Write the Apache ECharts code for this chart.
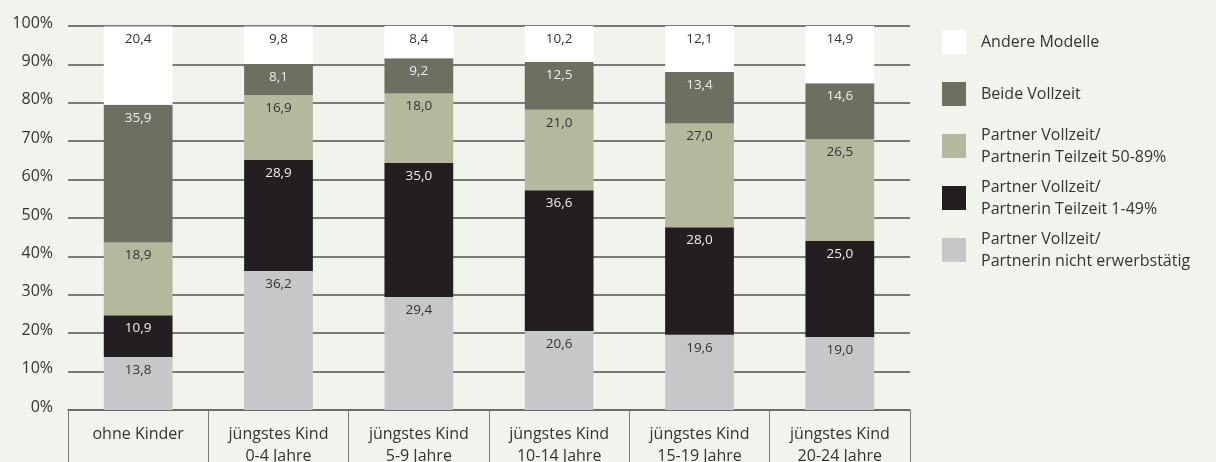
<!DOCTYPE html>
<html>
<head>
<meta charset="utf-8">
<script src="https://cdn.jsdelivr.net/npm/echarts@6/dist/echarts.min.js"></script>
<style>
html,body{margin:0;padding:0;background:#f3f3ee;}
#c{width:1216px;height:462px;}
</style>
</head>
<body>
<div id="c"></div>
<script>
const categories = ['ohne Kinder', 'jüngstes Kind\n0-4 Jahre', 'jüngstes Kind\n5-9 Jahre', 'jüngstes Kind\n10-14 Jahre', 'jüngstes Kind\n15-19 Jahre', 'jüngstes Kind\n20-24 Jahre'];
const seriesNames = ['Partner Vollzeit/\nPartnerin nicht erwerbstätig', 'Partner Vollzeit/\nPartnerin Teilzeit 1-49%', 'Partner Vollzeit/\nPartnerin Teilzeit 50-89%', 'Beide Vollzeit', 'Andere Modelle'];
const nichtErwerbstaetig = [13.8, 36.2, 29.4, 20.6, 19.6, 19.0];
const teilzeit1bis49 = [10.9, 28.9, 35.0, 36.6, 28.0, 25.0];
const teilzeit50bis89 = [18.9, 16.9, 18.0, 21.0, 27.0, 26.5];
const beideVollzeit = [35.9, 8.1, 9.2, 12.5, 13.4, 14.6];
const andereModelle = [20.4, 9.8, 8.4, 10.2, 12.1, 14.9];
const yTicks = [0, 10, 20, 30, 40, 50, 60, 70, 80, 90, 100];

const values = [nichtErwerbstaetig, teilzeit1bis49, teilzeit50bis89, beideVollzeit, andereModelle];
const colors = ['#c6c7c9', '#231f20', '#b5b89d', '#6d6f60', '#ffffff'];
const labelColors = ['#333333', '#eeeeee', '#333333', '#eeeeee', '#333333'];
const FONT = 'Open Sans';

const chart = echarts.init(document.getElementById('c'));

const series = values.map((v, i) => ({
  name: seriesNames[i],
  type: 'bar',
  stack: 'total',
  data: v,
  barWidth: '49%',
  itemStyle: { color: colors[i] },
  label: {
    show: true,
    position: 'insideTop',
    distance: 6,
    fontFamily: FONT,
    fontSize: 13.5,
    color: labelColors[i],
    formatter: p => p.value.toFixed(1).replace('.', ',')
  },
  emphasis: { disabled: true }
}));

// legend order from top: Andere, Beide, 50-89, 1-49, nicht erwerbstätig
const legendOrder = [4, 3, 2, 1, 0];
const iconTops = [30, 82, 134, 186, 238];
const legends = legendOrder.map((si, k) => {
  const multi = seriesNames[si].indexOf('\n') >= 0;
  return {
    orient: 'vertical',
    left: 942,
    top: multi ? iconTops[k] - 21 : iconTops[k],
    padding: 0,
    itemWidth: 24,
    itemHeight: 24,
    icon: 'rect',
    selectedMode: false,
    data: [seriesNames[si]],
    textStyle: {
      fontFamily: FONT,
      fontSize: 16,
      color: '#333333',
      lineHeight: 22,
      padding: multi ? [22, 0, 0, 10] : [2, 0, 0, 10]
    }
  };
});

chart.setOption({
  backgroundColor: '#f3f3ee',
  animation: false,
  legend: legends,
  grid: { left: 68, right: 306, top: 26, bottom: 52, containLabel: false, outerBoundsMode: 'none' },
  xAxis: {
    type: 'category',
    data: categories,
    axisLine: { show: true, lineStyle: { color: '#666666', width: 1.5 } },
    axisTick: { show: true, interval: 0, length: 60, lineStyle: { color: '#777777', width: 1 } },
    axisLabel: {
      interval: 0,
      margin: 13,
      fontFamily: FONT,
      fontSize: 16,
      lineHeight: 22,
      color: '#333333'
    }
  },
  yAxis: {
    type: 'value',
    min: yTicks[0],
    max: yTicks[yTicks.length - 1],
    interval: 10,
    axisLine: { show: false },
    axisTick: { show: false },
    splitLine: { show: true, lineStyle: { color: '#505050', width: 1.5 } },
    axisLabel: {
      margin: 15,
      fontFamily: FONT,
      fontSize: 16,
      color: '#333333',
      verticalAlign: 'bottom',
      lineHeight: 18,
      padding: [0, 0, -6, 0],
      formatter: v => v + '%'
    }
  },
  series: series
});
</script>
</body>
</html>
